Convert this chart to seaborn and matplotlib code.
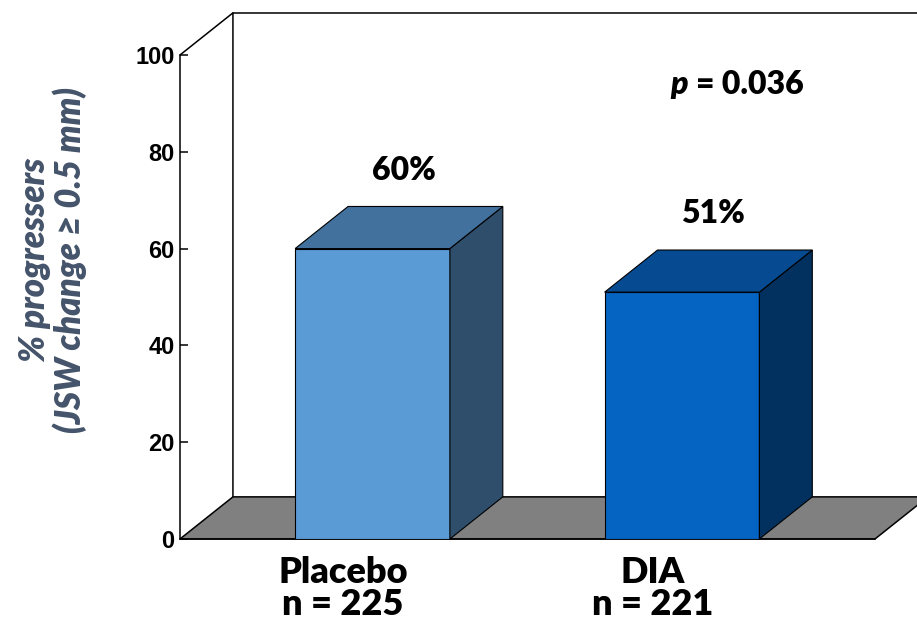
import numpy as np
import pandas as pd
import matplotlib
matplotlib.use("Agg")
import matplotlib.pyplot as plt
from matplotlib.patches import Polygon
import seaborn as sns

# data
groups = ["Placebo", "DIA"]
n_values = [225, 221]
pct_progressors = [60, 51]
value_labels = ["60%", "51%"]
p_value = "0.036"

front_colors = ["#5B9BD5", "#0563C1"]
top_colors = ["#41719C", "#064A92"]
side_colors = ["#2F4E6B", "#03315F"]

sns.set_theme(style="white")
plt.rcParams["font.family"] = ["Lato", "DejaVu Sans"]
plt.rcParams["text.color"] = "black"
plt.rcParams["xtick.color"] = "black"
plt.rcParams["ytick.color"] = "black"

df = pd.DataFrame({"group": groups, "pct": pct_progressors})

fig = plt.figure(figsize=(9.17, 6.27), dpi=100)
ax = fig.add_axes([0.1963, 0.1404, 0.7579, 0.7719])

# depth of the fake 3D box, in data units
DX, DY = 0.171, 8.7
XL, XR = -0.622, 1.6236

# back wall and floor
ax.plot([XL, XL + DX, XL + DX], [100, 100 + DY, DY], color="black", lw=1.1, clip_on=False, zorder=1)
ax.plot([XL + DX, XR + DX + 0.3], [100 + DY, 100 + DY], color="black", lw=1.1, clip_on=False, zorder=1)
floor = Polygon([[XL, 0], [XR, 0], [XR + DX, DY], [XL + DX, DY]], closed=True,
                facecolor="#808080", edgecolor="black", lw=1.1, clip_on=False, zorder=1)
ax.add_patch(floor)

sns.barplot(data=df, x="group", y="pct", hue="group", palette=front_colors, legend=False,
            width=0.5, saturation=1, edgecolor="black", linewidth=0.8, ax=ax, zorder=3)

bars = [p for p in ax.patches if p is not floor]
for i, bar in enumerate(bars):
    x0 = bar.get_x()
    w = bar.get_width()
    h = bar.get_height()
    x1 = x0 + w
    side = Polygon([[x1, 0], [x1 + DX, DY], [x1 + DX, h + DY], [x1, h]], closed=True,
                   facecolor=side_colors[i], edgecolor="black", lw=0.8, clip_on=False, zorder=3)
    top = Polygon([[x0, h], [x1, h], [x1 + DX, h + DY], [x0 + DX, h + DY]], closed=True,
                  facecolor=top_colors[i], edgecolor="black", lw=0.8, clip_on=False, zorder=3)
    ax.add_patch(side)
    ax.add_patch(top)
    ax.text(x0 + w / 2 + 0.1, h + DY + 7.5, value_labels[i], ha="center", va="center",
            fontsize=23, fontweight="heavy")

ax.text(1.02, 93.8, "p", ha="right", va="center", fontsize=23, fontweight="heavy", fontstyle="italic")
ax.text(1.045, 93.8, "= " + p_value, ha="left", va="center", fontsize=23, fontweight="heavy")

ax.set_xlim(XL, XR)
ax.set_ylim(0, 100)
ax.set_yticks([0, 20, 40, 60, 80, 100])
ax.set_xticks(range(len(groups)))
ax.set_xticklabels([])
# category labels, a little left of bar centres as in the original slide
xlab_trans = ax.get_xaxis_transform()
for i, (g, n) in enumerate(zip(groups, n_values)):
    ax.text(i - 0.095, -0.035, f"{g}\nn = {n}", transform=xlab_trans, ha="center", va="top",
            fontsize=26, fontweight="heavy", linespacing=0.98, multialignment="center")
ax.tick_params(axis="x", length=0)
ax.tick_params(axis="y", direction="in", length=6, width=1.1, pad=4, labelsize=17, left=True)
for lab in ax.get_yticklabels():
    lab.set_fontfamily(["Liberation Sans", "DejaVu Sans"])
    lab.set_fontweight("bold")

for s in ["top", "right"]:
    ax.spines[s].set_visible(False)
ax.spines["left"].set_linewidth(1.1)
ax.spines["bottom"].set_linewidth(1.1)
ax.spines["left"].set_color("black")
ax.spines["bottom"].set_color("black")
ax.set_xlabel("")
ax.set_ylabel("% progressers\n(JSW change \u2265 0.5 mm)", fontsize=25, fontweight="heavy",
              fontstyle="italic", color="#44546A", linespacing=1.05)
ax.yaxis.label.set_va("center")
ax.yaxis.set_label_coords(-0.183, 0.576)

fig.savefig("out.png", dpi=100)
